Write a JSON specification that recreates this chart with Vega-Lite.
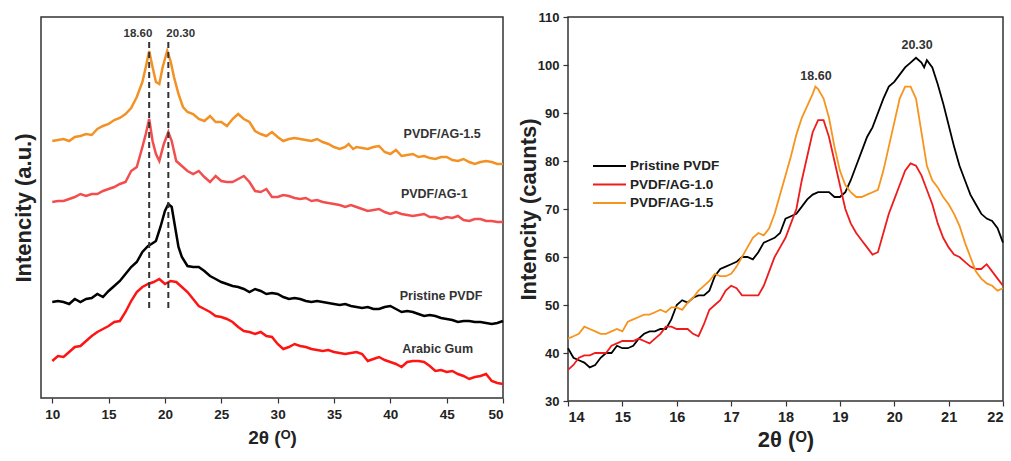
{
  "$schema": "https://vega.github.io/schema/vega-lite/v6.json",
  "padding": {"left": 11, "top": 10, "right": 5, "bottom": 5},
  "background": "white",
  "spacing": 65,
  "bounds": "flush",
  "resolve": {"scale": {"color": "independent"}},
  "datasets": {
    "left": [
      {"s":"PVDF/AG-1.5","x":10,"y":257},{"s":"PVDF/AG-1.5","x":10.5,"y":258},{"s":"PVDF/AG-1.5","x":11,"y":259},{"s":"PVDF/AG-1.5","x":11.5,"y":257},{"s":"PVDF/AG-1.5","x":12,"y":261},{"s":"PVDF/AG-1.5","x":12.5,"y":262},{"s":"PVDF/AG-1.5","x":13,"y":264},{"s":"PVDF/AG-1.5","x":13.5,"y":263},{"s":"PVDF/AG-1.5","x":14,"y":269},{"s":"PVDF/AG-1.5","x":14.5,"y":272},{"s":"PVDF/AG-1.5","x":15,"y":274},{"s":"PVDF/AG-1.5","x":15.5,"y":278},{"s":"PVDF/AG-1.5","x":16,"y":280},{"s":"PVDF/AG-1.5","x":16.5,"y":284},{"s":"PVDF/AG-1.5","x":17,"y":290},{"s":"PVDF/AG-1.5","x":17.5,"y":301},{"s":"PVDF/AG-1.5","x":18,"y":316},{"s":"PVDF/AG-1.5","x":18.3,"y":331},{"s":"PVDF/AG-1.5","x":18.6,"y":347},{"s":"PVDF/AG-1.5","x":18.9,"y":331},{"s":"PVDF/AG-1.5","x":19.2,"y":316},{"s":"PVDF/AG-1.5","x":19.5,"y":314},{"s":"PVDF/AG-1.5","x":19.8,"y":331},{"s":"PVDF/AG-1.5","x":20.2,"y":347},{"s":"PVDF/AG-1.5","x":20.5,"y":337},{"s":"PVDF/AG-1.5","x":20.8,"y":321},{"s":"PVDF/AG-1.5","x":21.2,"y":304},{"s":"PVDF/AG-1.5","x":21.6,"y":291},{"s":"PVDF/AG-1.5","x":22,"y":286},{"s":"PVDF/AG-1.5","x":22.5,"y":284},{"s":"PVDF/AG-1.5","x":23,"y":279},{"s":"PVDF/AG-1.5","x":23.5,"y":277},{"s":"PVDF/AG-1.5","x":24,"y":282},{"s":"PVDF/AG-1.5","x":24.5,"y":276},{"s":"PVDF/AG-1.5","x":25,"y":276},{"s":"PVDF/AG-1.5","x":25.5,"y":272},{"s":"PVDF/AG-1.5","x":26,"y":279},{"s":"PVDF/AG-1.5","x":26.5,"y":284},{"s":"PVDF/AG-1.5","x":27,"y":279},{"s":"PVDF/AG-1.5","x":27.5,"y":276},{"s":"PVDF/AG-1.5","x":28,"y":267},{"s":"PVDF/AG-1.5","x":28.5,"y":264},{"s":"PVDF/AG-1.5","x":29,"y":262},{"s":"PVDF/AG-1.5","x":29.5,"y":266},{"s":"PVDF/AG-1.5","x":30,"y":261},{"s":"PVDF/AG-1.5","x":30.5,"y":257},{"s":"PVDF/AG-1.5","x":31,"y":259},{"s":"PVDF/AG-1.5","x":31.5,"y":260},{"s":"PVDF/AG-1.5","x":32,"y":259},{"s":"PVDF/AG-1.5","x":32.5,"y":258},{"s":"PVDF/AG-1.5","x":33,"y":257},{"s":"PVDF/AG-1.5","x":33.5,"y":259},{"s":"PVDF/AG-1.5","x":34,"y":256},{"s":"PVDF/AG-1.5","x":34.5,"y":254},{"s":"PVDF/AG-1.5","x":35,"y":251},{"s":"PVDF/AG-1.5","x":35.5,"y":249},{"s":"PVDF/AG-1.5","x":36,"y":251},{"s":"PVDF/AG-1.5","x":36.3,"y":254},{"s":"PVDF/AG-1.5","x":36.7,"y":249},{"s":"PVDF/AG-1.5","x":37,"y":251},{"s":"PVDF/AG-1.5","x":37.5,"y":250},{"s":"PVDF/AG-1.5","x":38,"y":249},{"s":"PVDF/AG-1.5","x":38.5,"y":251},{"s":"PVDF/AG-1.5","x":39,"y":252},{"s":"PVDF/AG-1.5","x":39.5,"y":246},{"s":"PVDF/AG-1.5","x":40,"y":244},{"s":"PVDF/AG-1.5","x":40.5,"y":248},{"s":"PVDF/AG-1.5","x":41,"y":242},{"s":"PVDF/AG-1.5","x":41.5,"y":243},{"s":"PVDF/AG-1.5","x":42,"y":244},{"s":"PVDF/AG-1.5","x":42.5,"y":241},{"s":"PVDF/AG-1.5","x":43,"y":242},{"s":"PVDF/AG-1.5","x":43.5,"y":240},{"s":"PVDF/AG-1.5","x":44,"y":239},{"s":"PVDF/AG-1.5","x":44.5,"y":241},{"s":"PVDF/AG-1.5","x":45,"y":241},{"s":"PVDF/AG-1.5","x":45.5,"y":238},{"s":"PVDF/AG-1.5","x":46,"y":237},{"s":"PVDF/AG-1.5","x":46.5,"y":239},{"s":"PVDF/AG-1.5","x":47,"y":236},{"s":"PVDF/AG-1.5","x":47.5,"y":234},{"s":"PVDF/AG-1.5","x":48,"y":236},{"s":"PVDF/AG-1.5","x":48.5,"y":237},{"s":"PVDF/AG-1.5","x":49,"y":236},{"s":"PVDF/AG-1.5","x":49.5,"y":234},{"s":"PVDF/AG-1.5","x":50,"y":234},

      {"s":"PVDF/AG-1","x":10,"y":196},{"s":"PVDF/AG-1","x":10.5,"y":197},{"s":"PVDF/AG-1","x":11,"y":197},{"s":"PVDF/AG-1","x":11.5,"y":199},{"s":"PVDF/AG-1","x":12,"y":201},{"s":"PVDF/AG-1","x":12.5,"y":204},{"s":"PVDF/AG-1","x":13,"y":202},{"s":"PVDF/AG-1","x":13.5,"y":204},{"s":"PVDF/AG-1","x":14,"y":204},{"s":"PVDF/AG-1","x":14.5,"y":207},{"s":"PVDF/AG-1","x":15,"y":209},{"s":"PVDF/AG-1","x":15.5,"y":211},{"s":"PVDF/AG-1","x":16,"y":214},{"s":"PVDF/AG-1","x":16.5,"y":216},{"s":"PVDF/AG-1","x":17,"y":227},{"s":"PVDF/AG-1","x":17.5,"y":231},{"s":"PVDF/AG-1","x":18,"y":251},{"s":"PVDF/AG-1","x":18.3,"y":264},{"s":"PVDF/AG-1","x":18.6,"y":279},{"s":"PVDF/AG-1","x":18.9,"y":257},{"s":"PVDF/AG-1","x":19.2,"y":244},{"s":"PVDF/AG-1","x":19.5,"y":237},{"s":"PVDF/AG-1","x":19.9,"y":254},{"s":"PVDF/AG-1","x":20.3,"y":266},{"s":"PVDF/AG-1","x":20.6,"y":257},{"s":"PVDF/AG-1","x":21,"y":237},{"s":"PVDF/AG-1","x":21.5,"y":232},{"s":"PVDF/AG-1","x":22,"y":227},{"s":"PVDF/AG-1","x":22.5,"y":224},{"s":"PVDF/AG-1","x":23,"y":227},{"s":"PVDF/AG-1","x":23.5,"y":221},{"s":"PVDF/AG-1","x":24,"y":216},{"s":"PVDF/AG-1","x":24.5,"y":222},{"s":"PVDF/AG-1","x":25,"y":217},{"s":"PVDF/AG-1","x":25.5,"y":216},{"s":"PVDF/AG-1","x":26,"y":216},{"s":"PVDF/AG-1","x":26.5,"y":219},{"s":"PVDF/AG-1","x":27,"y":222},{"s":"PVDF/AG-1","x":27.5,"y":216},{"s":"PVDF/AG-1","x":28,"y":207},{"s":"PVDF/AG-1","x":28.5,"y":206},{"s":"PVDF/AG-1","x":29,"y":209},{"s":"PVDF/AG-1","x":29.5,"y":201},{"s":"PVDF/AG-1","x":30,"y":201},{"s":"PVDF/AG-1","x":30.5,"y":203},{"s":"PVDF/AG-1","x":31,"y":202},{"s":"PVDF/AG-1","x":31.5,"y":200},{"s":"PVDF/AG-1","x":32,"y":199},{"s":"PVDF/AG-1","x":32.5,"y":200},{"s":"PVDF/AG-1","x":33,"y":197},{"s":"PVDF/AG-1","x":33.5,"y":198},{"s":"PVDF/AG-1","x":34,"y":196},{"s":"PVDF/AG-1","x":34.5,"y":195},{"s":"PVDF/AG-1","x":35,"y":194},{"s":"PVDF/AG-1","x":35.5,"y":193},{"s":"PVDF/AG-1","x":36,"y":191},{"s":"PVDF/AG-1","x":36.5,"y":193},{"s":"PVDF/AG-1","x":37,"y":191},{"s":"PVDF/AG-1","x":37.5,"y":189},{"s":"PVDF/AG-1","x":38,"y":187},{"s":"PVDF/AG-1","x":38.5,"y":188},{"s":"PVDF/AG-1","x":39,"y":189},{"s":"PVDF/AG-1","x":39.5,"y":186},{"s":"PVDF/AG-1","x":40,"y":184},{"s":"PVDF/AG-1","x":40.5,"y":186},{"s":"PVDF/AG-1","x":41,"y":184},{"s":"PVDF/AG-1","x":41.5,"y":183},{"s":"PVDF/AG-1","x":42,"y":182},{"s":"PVDF/AG-1","x":42.5,"y":183},{"s":"PVDF/AG-1","x":43,"y":184},{"s":"PVDF/AG-1","x":43.5,"y":181},{"s":"PVDF/AG-1","x":44,"y":181},{"s":"PVDF/AG-1","x":44.5,"y":179},{"s":"PVDF/AG-1","x":45,"y":181},{"s":"PVDF/AG-1","x":45.5,"y":180},{"s":"PVDF/AG-1","x":46,"y":182},{"s":"PVDF/AG-1","x":46.5,"y":178},{"s":"PVDF/AG-1","x":47,"y":177},{"s":"PVDF/AG-1","x":47.5,"y":179},{"s":"PVDF/AG-1","x":48,"y":179},{"s":"PVDF/AG-1","x":48.5,"y":177},{"s":"PVDF/AG-1","x":49,"y":177},{"s":"PVDF/AG-1","x":49.5,"y":176},{"s":"PVDF/AG-1","x":50,"y":176},

      {"s":"Pristine PVDF","x":10,"y":96},{"s":"Pristine PVDF","x":10.5,"y":97},{"s":"Pristine PVDF","x":11,"y":96},{"s":"Pristine PVDF","x":11.5,"y":94},{"s":"Pristine PVDF","x":12,"y":99},{"s":"Pristine PVDF","x":12.5,"y":96},{"s":"Pristine PVDF","x":13,"y":99},{"s":"Pristine PVDF","x":13.5,"y":100},{"s":"Pristine PVDF","x":14,"y":104},{"s":"Pristine PVDF","x":14.5,"y":101},{"s":"Pristine PVDF","x":15,"y":107},{"s":"Pristine PVDF","x":15.5,"y":112},{"s":"Pristine PVDF","x":16,"y":117},{"s":"Pristine PVDF","x":16.5,"y":124},{"s":"Pristine PVDF","x":17,"y":131},{"s":"Pristine PVDF","x":17.5,"y":136},{"s":"Pristine PVDF","x":18,"y":146},{"s":"Pristine PVDF","x":18.5,"y":152},{"s":"Pristine PVDF","x":18.8,"y":154},{"s":"Pristine PVDF","x":19.2,"y":157},{"s":"Pristine PVDF","x":19.6,"y":171},{"s":"Pristine PVDF","x":20,"y":187},{"s":"Pristine PVDF","x":20.3,"y":194},{"s":"Pristine PVDF","x":20.6,"y":191},{"s":"Pristine PVDF","x":20.9,"y":171},{"s":"Pristine PVDF","x":21.2,"y":151},{"s":"Pristine PVDF","x":21.5,"y":141},{"s":"Pristine PVDF","x":22,"y":132},{"s":"Pristine PVDF","x":22.5,"y":131},{"s":"Pristine PVDF","x":23,"y":131},{"s":"Pristine PVDF","x":23.5,"y":127},{"s":"Pristine PVDF","x":24,"y":122},{"s":"Pristine PVDF","x":24.5,"y":119},{"s":"Pristine PVDF","x":25,"y":116},{"s":"Pristine PVDF","x":25.5,"y":114},{"s":"Pristine PVDF","x":26,"y":112},{"s":"Pristine PVDF","x":26.5,"y":111},{"s":"Pristine PVDF","x":27,"y":109},{"s":"Pristine PVDF","x":27.5,"y":106},{"s":"Pristine PVDF","x":28,"y":109},{"s":"Pristine PVDF","x":28.5,"y":107},{"s":"Pristine PVDF","x":29,"y":104},{"s":"Pristine PVDF","x":29.5,"y":105},{"s":"Pristine PVDF","x":30,"y":104},{"s":"Pristine PVDF","x":30.5,"y":101},{"s":"Pristine PVDF","x":31,"y":99},{"s":"Pristine PVDF","x":31.5,"y":100},{"s":"Pristine PVDF","x":32,"y":99},{"s":"Pristine PVDF","x":32.5,"y":97},{"s":"Pristine PVDF","x":33,"y":96},{"s":"Pristine PVDF","x":33.5,"y":97},{"s":"Pristine PVDF","x":34,"y":96},{"s":"Pristine PVDF","x":34.5,"y":95},{"s":"Pristine PVDF","x":35,"y":94},{"s":"Pristine PVDF","x":35.5,"y":93},{"s":"Pristine PVDF","x":36,"y":94},{"s":"Pristine PVDF","x":36.5,"y":92},{"s":"Pristine PVDF","x":37,"y":91},{"s":"Pristine PVDF","x":37.5,"y":90},{"s":"Pristine PVDF","x":38,"y":91},{"s":"Pristine PVDF","x":38.5,"y":89},{"s":"Pristine PVDF","x":39,"y":89},{"s":"Pristine PVDF","x":39.5,"y":91},{"s":"Pristine PVDF","x":40,"y":92},{"s":"Pristine PVDF","x":40.5,"y":89},{"s":"Pristine PVDF","x":41,"y":86},{"s":"Pristine PVDF","x":41.5,"y":87},{"s":"Pristine PVDF","x":42,"y":86},{"s":"Pristine PVDF","x":42.5,"y":84},{"s":"Pristine PVDF","x":43,"y":82},{"s":"Pristine PVDF","x":43.5,"y":83},{"s":"Pristine PVDF","x":44,"y":82},{"s":"Pristine PVDF","x":44.5,"y":80},{"s":"Pristine PVDF","x":45,"y":79},{"s":"Pristine PVDF","x":45.5,"y":78},{"s":"Pristine PVDF","x":46,"y":76},{"s":"Pristine PVDF","x":46.5,"y":77},{"s":"Pristine PVDF","x":47,"y":77},{"s":"Pristine PVDF","x":47.5,"y":76},{"s":"Pristine PVDF","x":48,"y":76},{"s":"Pristine PVDF","x":48.5,"y":75},{"s":"Pristine PVDF","x":49,"y":74},{"s":"Pristine PVDF","x":49.5,"y":75},{"s":"Pristine PVDF","x":50,"y":77},

      {"s":"Arabic Gum","x":10,"y":37},{"s":"Arabic Gum","x":10.5,"y":42},{"s":"Arabic Gum","x":11,"y":41},{"s":"Arabic Gum","x":11.5,"y":46},{"s":"Arabic Gum","x":12,"y":51},{"s":"Arabic Gum","x":12.5,"y":52},{"s":"Arabic Gum","x":13,"y":57},{"s":"Arabic Gum","x":13.5,"y":62},{"s":"Arabic Gum","x":14,"y":66},{"s":"Arabic Gum","x":14.5,"y":69},{"s":"Arabic Gum","x":15,"y":72},{"s":"Arabic Gum","x":15.5,"y":76},{"s":"Arabic Gum","x":16,"y":77},{"s":"Arabic Gum","x":16.5,"y":86},{"s":"Arabic Gum","x":17,"y":97},{"s":"Arabic Gum","x":17.5,"y":106},{"s":"Arabic Gum","x":18,"y":111},{"s":"Arabic Gum","x":18.5,"y":114},{"s":"Arabic Gum","x":19,"y":116},{"s":"Arabic Gum","x":19.5,"y":119},{"s":"Arabic Gum","x":20,"y":114},{"s":"Arabic Gum","x":20.5,"y":117},{"s":"Arabic Gum","x":21,"y":116},{"s":"Arabic Gum","x":21.5,"y":111},{"s":"Arabic Gum","x":22,"y":106},{"s":"Arabic Gum","x":22.5,"y":99},{"s":"Arabic Gum","x":23,"y":92},{"s":"Arabic Gum","x":23.5,"y":89},{"s":"Arabic Gum","x":24,"y":86},{"s":"Arabic Gum","x":24.5,"y":82},{"s":"Arabic Gum","x":25,"y":81},{"s":"Arabic Gum","x":25.5,"y":79},{"s":"Arabic Gum","x":26,"y":76},{"s":"Arabic Gum","x":26.5,"y":71},{"s":"Arabic Gum","x":27,"y":67},{"s":"Arabic Gum","x":27.5,"y":66},{"s":"Arabic Gum","x":28,"y":64},{"s":"Arabic Gum","x":28.5,"y":66},{"s":"Arabic Gum","x":29,"y":62},{"s":"Arabic Gum","x":29.5,"y":61},{"s":"Arabic Gum","x":30,"y":54},{"s":"Arabic Gum","x":30.5,"y":49},{"s":"Arabic Gum","x":31,"y":51},{"s":"Arabic Gum","x":31.5,"y":54},{"s":"Arabic Gum","x":32,"y":52},{"s":"Arabic Gum","x":32.5,"y":51},{"s":"Arabic Gum","x":33,"y":49},{"s":"Arabic Gum","x":33.5,"y":48},{"s":"Arabic Gum","x":34,"y":47},{"s":"Arabic Gum","x":34.5,"y":48},{"s":"Arabic Gum","x":35,"y":46},{"s":"Arabic Gum","x":35.5,"y":45},{"s":"Arabic Gum","x":36,"y":44},{"s":"Arabic Gum","x":36.5,"y":45},{"s":"Arabic Gum","x":37,"y":46},{"s":"Arabic Gum","x":37.5,"y":44},{"s":"Arabic Gum","x":38,"y":37},{"s":"Arabic Gum","x":38.5,"y":39},{"s":"Arabic Gum","x":39,"y":41},{"s":"Arabic Gum","x":39.5,"y":38},{"s":"Arabic Gum","x":40,"y":36},{"s":"Arabic Gum","x":40.5,"y":34},{"s":"Arabic Gum","x":41,"y":31},{"s":"Arabic Gum","x":41.5,"y":36},{"s":"Arabic Gum","x":42,"y":37},{"s":"Arabic Gum","x":42.5,"y":37},{"s":"Arabic Gum","x":43,"y":36},{"s":"Arabic Gum","x":43.5,"y":32},{"s":"Arabic Gum","x":44,"y":27},{"s":"Arabic Gum","x":44.5,"y":28},{"s":"Arabic Gum","x":45,"y":26},{"s":"Arabic Gum","x":45.5,"y":27},{"s":"Arabic Gum","x":46,"y":24},{"s":"Arabic Gum","x":46.5,"y":22},{"s":"Arabic Gum","x":47,"y":19},{"s":"Arabic Gum","x":47.5,"y":21},{"s":"Arabic Gum","x":48,"y":22},{"s":"Arabic Gum","x":48.5,"y":24},{"s":"Arabic Gum","x":49,"y":17},{"s":"Arabic Gum","x":49.5,"y":15},{"s":"Arabic Gum","x":50,"y":14}
    ],
    "peaksL": [
      {"x": 18.6, "y1": 90, "y2": 358, "tx": 17.6, "ty": 364, "label": "18.60"},
      {"x": 20.3, "y1": 90, "y2": 358, "tx": 21.4, "ty": 364, "label": "20.30"}
    ],
    "labelsL": [
      {"x": 44.6, "y": 264, "label": "PVDF/AG-1.5"},
      {"x": 43.9, "y": 204, "label": "PVDF/AG-1"},
      {"x": 44.5, "y": 102, "label": "Pristine PVDF"},
      {"x": 44.2, "y": 49, "label": "Arabic Gum"}
    ],
    "peaksR": [
      {"x": 18.56, "y": 97.7, "label": "18.60"},
      {"x": 20.42, "y": 104.2, "label": "20.30"}
    ],
    "right": [
      {"s":"Pristine PVDF","x":14.0,"y":41},{"s":"Pristine PVDF","x":14.1,"y":39},{"s":"Pristine PVDF","x":14.2,"y":38.5},{"s":"Pristine PVDF","x":14.3,"y":38},{"s":"Pristine PVDF","x":14.4,"y":37},{"s":"Pristine PVDF","x":14.5,"y":37.5},{"s":"Pristine PVDF","x":14.6,"y":39},{"s":"Pristine PVDF","x":14.7,"y":40},{"s":"Pristine PVDF","x":14.8,"y":40},{"s":"Pristine PVDF","x":14.9,"y":41.5},{"s":"Pristine PVDF","x":15.0,"y":41},{"s":"Pristine PVDF","x":15.1,"y":41},{"s":"Pristine PVDF","x":15.2,"y":41.5},{"s":"Pristine PVDF","x":15.3,"y":43},{"s":"Pristine PVDF","x":15.4,"y":44},{"s":"Pristine PVDF","x":15.5,"y":44.5},{"s":"Pristine PVDF","x":15.6,"y":44.5},{"s":"Pristine PVDF","x":15.7,"y":45},{"s":"Pristine PVDF","x":15.8,"y":45},{"s":"Pristine PVDF","x":15.9,"y":47},{"s":"Pristine PVDF","x":16.0,"y":50},{"s":"Pristine PVDF","x":16.1,"y":51},{"s":"Pristine PVDF","x":16.2,"y":50.5},{"s":"Pristine PVDF","x":16.3,"y":51.5},{"s":"Pristine PVDF","x":16.4,"y":52},{"s":"Pristine PVDF","x":16.5,"y":52},{"s":"Pristine PVDF","x":16.6,"y":53},{"s":"Pristine PVDF","x":16.7,"y":56},{"s":"Pristine PVDF","x":16.8,"y":57.5},{"s":"Pristine PVDF","x":16.9,"y":58},{"s":"Pristine PVDF","x":17.0,"y":58.5},{"s":"Pristine PVDF","x":17.1,"y":59},{"s":"Pristine PVDF","x":17.2,"y":60},{"s":"Pristine PVDF","x":17.3,"y":60},{"s":"Pristine PVDF","x":17.4,"y":59.5},{"s":"Pristine PVDF","x":17.5,"y":61},{"s":"Pristine PVDF","x":17.6,"y":63},{"s":"Pristine PVDF","x":17.7,"y":63.5},{"s":"Pristine PVDF","x":17.8,"y":64},{"s":"Pristine PVDF","x":17.9,"y":65},{"s":"Pristine PVDF","x":18.0,"y":68},{"s":"Pristine PVDF","x":18.1,"y":68.5},{"s":"Pristine PVDF","x":18.2,"y":69},{"s":"Pristine PVDF","x":18.3,"y":70.5},{"s":"Pristine PVDF","x":18.4,"y":72},{"s":"Pristine PVDF","x":18.5,"y":73},{"s":"Pristine PVDF","x":18.6,"y":73.5},{"s":"Pristine PVDF","x":18.7,"y":73.5},{"s":"Pristine PVDF","x":18.8,"y":73.5},{"s":"Pristine PVDF","x":18.9,"y":72.5},{"s":"Pristine PVDF","x":19.0,"y":72.5},{"s":"Pristine PVDF","x":19.1,"y":73.5},{"s":"Pristine PVDF","x":19.2,"y":76},{"s":"Pristine PVDF","x":19.3,"y":79},{"s":"Pristine PVDF","x":19.4,"y":82},{"s":"Pristine PVDF","x":19.5,"y":85},{"s":"Pristine PVDF","x":19.6,"y":87},{"s":"Pristine PVDF","x":19.7,"y":90},{"s":"Pristine PVDF","x":19.8,"y":93},{"s":"Pristine PVDF","x":19.9,"y":95.5},{"s":"Pristine PVDF","x":20.0,"y":96.5},{"s":"Pristine PVDF","x":20.1,"y":98},{"s":"Pristine PVDF","x":20.2,"y":99.5},{"s":"Pristine PVDF","x":20.3,"y":100.5},{"s":"Pristine PVDF","x":20.4,"y":101.5},{"s":"Pristine PVDF","x":20.5,"y":100.5},{"s":"Pristine PVDF","x":20.55,"y":99.5},{"s":"Pristine PVDF","x":20.6,"y":101},{"s":"Pristine PVDF","x":20.7,"y":99.5},{"s":"Pristine PVDF","x":20.8,"y":96},{"s":"Pristine PVDF","x":20.9,"y":92},{"s":"Pristine PVDF","x":21.0,"y":87.5},{"s":"Pristine PVDF","x":21.1,"y":83},{"s":"Pristine PVDF","x":21.2,"y":79},{"s":"Pristine PVDF","x":21.3,"y":76},{"s":"Pristine PVDF","x":21.4,"y":73},{"s":"Pristine PVDF","x":21.5,"y":71},{"s":"Pristine PVDF","x":21.6,"y":69},{"s":"Pristine PVDF","x":21.7,"y":68},{"s":"Pristine PVDF","x":21.8,"y":67.5},{"s":"Pristine PVDF","x":21.9,"y":66},{"s":"Pristine PVDF","x":22.0,"y":63},

      {"s":"PVDF/AG-1.0","x":14.0,"y":36.5},{"s":"PVDF/AG-1.0","x":14.1,"y":37.5},{"s":"PVDF/AG-1.0","x":14.2,"y":39},{"s":"PVDF/AG-1.0","x":14.3,"y":39.5},{"s":"PVDF/AG-1.0","x":14.4,"y":39.5},{"s":"PVDF/AG-1.0","x":14.5,"y":40},{"s":"PVDF/AG-1.0","x":14.6,"y":40},{"s":"PVDF/AG-1.0","x":14.7,"y":40},{"s":"PVDF/AG-1.0","x":14.8,"y":41.5},{"s":"PVDF/AG-1.0","x":14.9,"y":42},{"s":"PVDF/AG-1.0","x":15.0,"y":42.5},{"s":"PVDF/AG-1.0","x":15.1,"y":42.5},{"s":"PVDF/AG-1.0","x":15.2,"y":42.5},{"s":"PVDF/AG-1.0","x":15.3,"y":43},{"s":"PVDF/AG-1.0","x":15.4,"y":42.5},{"s":"PVDF/AG-1.0","x":15.5,"y":42},{"s":"PVDF/AG-1.0","x":15.6,"y":43},{"s":"PVDF/AG-1.0","x":15.7,"y":44},{"s":"PVDF/AG-1.0","x":15.8,"y":45.5},{"s":"PVDF/AG-1.0","x":15.9,"y":45.5},{"s":"PVDF/AG-1.0","x":16.0,"y":45},{"s":"PVDF/AG-1.0","x":16.1,"y":45},{"s":"PVDF/AG-1.0","x":16.2,"y":45},{"s":"PVDF/AG-1.0","x":16.3,"y":44},{"s":"PVDF/AG-1.0","x":16.4,"y":43.5},{"s":"PVDF/AG-1.0","x":16.5,"y":46},{"s":"PVDF/AG-1.0","x":16.6,"y":49},{"s":"PVDF/AG-1.0","x":16.7,"y":50},{"s":"PVDF/AG-1.0","x":16.8,"y":51},{"s":"PVDF/AG-1.0","x":16.9,"y":53},{"s":"PVDF/AG-1.0","x":17.0,"y":54},{"s":"PVDF/AG-1.0","x":17.1,"y":53.5},{"s":"PVDF/AG-1.0","x":17.2,"y":52},{"s":"PVDF/AG-1.0","x":17.3,"y":52},{"s":"PVDF/AG-1.0","x":17.4,"y":52},{"s":"PVDF/AG-1.0","x":17.5,"y":52},{"s":"PVDF/AG-1.0","x":17.6,"y":54},{"s":"PVDF/AG-1.0","x":17.7,"y":57},{"s":"PVDF/AG-1.0","x":17.8,"y":60},{"s":"PVDF/AG-1.0","x":17.9,"y":62},{"s":"PVDF/AG-1.0","x":18.0,"y":64},{"s":"PVDF/AG-1.0","x":18.1,"y":67},{"s":"PVDF/AG-1.0","x":18.2,"y":70},{"s":"PVDF/AG-1.0","x":18.3,"y":76},{"s":"PVDF/AG-1.0","x":18.4,"y":81},{"s":"PVDF/AG-1.0","x":18.5,"y":86},{"s":"PVDF/AG-1.0","x":18.6,"y":88.5},{"s":"PVDF/AG-1.0","x":18.7,"y":88.5},{"s":"PVDF/AG-1.0","x":18.8,"y":85},{"s":"PVDF/AG-1.0","x":18.9,"y":80},{"s":"PVDF/AG-1.0","x":19.0,"y":75},{"s":"PVDF/AG-1.0","x":19.1,"y":70},{"s":"PVDF/AG-1.0","x":19.2,"y":67},{"s":"PVDF/AG-1.0","x":19.3,"y":65},{"s":"PVDF/AG-1.0","x":19.4,"y":63.5},{"s":"PVDF/AG-1.0","x":19.5,"y":62},{"s":"PVDF/AG-1.0","x":19.6,"y":60.5},{"s":"PVDF/AG-1.0","x":19.7,"y":61},{"s":"PVDF/AG-1.0","x":19.8,"y":65},{"s":"PVDF/AG-1.0","x":19.9,"y":69},{"s":"PVDF/AG-1.0","x":20.0,"y":72},{"s":"PVDF/AG-1.0","x":20.1,"y":75},{"s":"PVDF/AG-1.0","x":20.2,"y":78},{"s":"PVDF/AG-1.0","x":20.3,"y":79.5},{"s":"PVDF/AG-1.0","x":20.4,"y":79},{"s":"PVDF/AG-1.0","x":20.5,"y":77},{"s":"PVDF/AG-1.0","x":20.6,"y":74},{"s":"PVDF/AG-1.0","x":20.7,"y":71},{"s":"PVDF/AG-1.0","x":20.8,"y":67},{"s":"PVDF/AG-1.0","x":20.9,"y":64},{"s":"PVDF/AG-1.0","x":21.0,"y":62},{"s":"PVDF/AG-1.0","x":21.1,"y":60.5},{"s":"PVDF/AG-1.0","x":21.2,"y":60},{"s":"PVDF/AG-1.0","x":21.3,"y":59},{"s":"PVDF/AG-1.0","x":21.4,"y":58},{"s":"PVDF/AG-1.0","x":21.5,"y":57.5},{"s":"PVDF/AG-1.0","x":21.6,"y":57.5},{"s":"PVDF/AG-1.0","x":21.7,"y":58.5},{"s":"PVDF/AG-1.0","x":21.8,"y":57},{"s":"PVDF/AG-1.0","x":21.9,"y":55.5},{"s":"PVDF/AG-1.0","x":22.0,"y":54},

      {"s":"PVDF/AG-1.5","x":14.0,"y":43},{"s":"PVDF/AG-1.5","x":14.1,"y":43.5},{"s":"PVDF/AG-1.5","x":14.2,"y":44},{"s":"PVDF/AG-1.5","x":14.3,"y":45.5},{"s":"PVDF/AG-1.5","x":14.4,"y":45},{"s":"PVDF/AG-1.5","x":14.5,"y":44.5},{"s":"PVDF/AG-1.5","x":14.6,"y":44},{"s":"PVDF/AG-1.5","x":14.7,"y":44},{"s":"PVDF/AG-1.5","x":14.8,"y":44.5},{"s":"PVDF/AG-1.5","x":14.9,"y":45},{"s":"PVDF/AG-1.5","x":15.0,"y":44.5},{"s":"PVDF/AG-1.5","x":15.1,"y":46.5},{"s":"PVDF/AG-1.5","x":15.2,"y":47},{"s":"PVDF/AG-1.5","x":15.3,"y":47.5},{"s":"PVDF/AG-1.5","x":15.4,"y":48},{"s":"PVDF/AG-1.5","x":15.5,"y":48},{"s":"PVDF/AG-1.5","x":15.6,"y":48.5},{"s":"PVDF/AG-1.5","x":15.7,"y":49},{"s":"PVDF/AG-1.5","x":15.8,"y":48.5},{"s":"PVDF/AG-1.5","x":15.9,"y":49.5},{"s":"PVDF/AG-1.5","x":16.0,"y":49.5},{"s":"PVDF/AG-1.5","x":16.1,"y":49},{"s":"PVDF/AG-1.5","x":16.2,"y":50.5},{"s":"PVDF/AG-1.5","x":16.3,"y":51.5},{"s":"PVDF/AG-1.5","x":16.4,"y":53},{"s":"PVDF/AG-1.5","x":16.5,"y":54},{"s":"PVDF/AG-1.5","x":16.6,"y":55},{"s":"PVDF/AG-1.5","x":16.7,"y":56.5},{"s":"PVDF/AG-1.5","x":16.8,"y":56},{"s":"PVDF/AG-1.5","x":16.9,"y":56},{"s":"PVDF/AG-1.5","x":17.0,"y":56.5},{"s":"PVDF/AG-1.5","x":17.1,"y":58},{"s":"PVDF/AG-1.5","x":17.2,"y":60},{"s":"PVDF/AG-1.5","x":17.3,"y":62},{"s":"PVDF/AG-1.5","x":17.4,"y":64},{"s":"PVDF/AG-1.5","x":17.5,"y":65},{"s":"PVDF/AG-1.5","x":17.6,"y":64.5},{"s":"PVDF/AG-1.5","x":17.7,"y":66},{"s":"PVDF/AG-1.5","x":17.8,"y":69},{"s":"PVDF/AG-1.5","x":17.9,"y":73},{"s":"PVDF/AG-1.5","x":18.0,"y":77},{"s":"PVDF/AG-1.5","x":18.1,"y":81},{"s":"PVDF/AG-1.5","x":18.2,"y":85.5},{"s":"PVDF/AG-1.5","x":18.3,"y":89},{"s":"PVDF/AG-1.5","x":18.4,"y":91.5},{"s":"PVDF/AG-1.5","x":18.5,"y":94},{"s":"PVDF/AG-1.5","x":18.55,"y":95.5},{"s":"PVDF/AG-1.5","x":18.6,"y":95},{"s":"PVDF/AG-1.5","x":18.7,"y":93},{"s":"PVDF/AG-1.5","x":18.8,"y":89},{"s":"PVDF/AG-1.5","x":18.9,"y":83},{"s":"PVDF/AG-1.5","x":19.0,"y":78},{"s":"PVDF/AG-1.5","x":19.1,"y":75},{"s":"PVDF/AG-1.5","x":19.2,"y":73.5},{"s":"PVDF/AG-1.5","x":19.3,"y":72.5},{"s":"PVDF/AG-1.5","x":19.4,"y":72.5},{"s":"PVDF/AG-1.5","x":19.5,"y":73},{"s":"PVDF/AG-1.5","x":19.6,"y":73.5},{"s":"PVDF/AG-1.5","x":19.7,"y":74},{"s":"PVDF/AG-1.5","x":19.8,"y":78},{"s":"PVDF/AG-1.5","x":19.9,"y":83},{"s":"PVDF/AG-1.5","x":20.0,"y":88},{"s":"PVDF/AG-1.5","x":20.1,"y":93},{"s":"PVDF/AG-1.5","x":20.2,"y":95.5},{"s":"PVDF/AG-1.5","x":20.3,"y":95.5},{"s":"PVDF/AG-1.5","x":20.4,"y":93},{"s":"PVDF/AG-1.5","x":20.5,"y":86},{"s":"PVDF/AG-1.5","x":20.6,"y":79},{"s":"PVDF/AG-1.5","x":20.7,"y":76},{"s":"PVDF/AG-1.5","x":20.8,"y":74.5},{"s":"PVDF/AG-1.5","x":20.9,"y":72.5},{"s":"PVDF/AG-1.5","x":21.0,"y":71},{"s":"PVDF/AG-1.5","x":21.1,"y":69},{"s":"PVDF/AG-1.5","x":21.2,"y":66.5},{"s":"PVDF/AG-1.5","x":21.3,"y":63},{"s":"PVDF/AG-1.5","x":21.4,"y":60},{"s":"PVDF/AG-1.5","x":21.5,"y":57},{"s":"PVDF/AG-1.5","x":21.6,"y":55.5},{"s":"PVDF/AG-1.5","x":21.7,"y":54.5},{"s":"PVDF/AG-1.5","x":21.8,"y":54},{"s":"PVDF/AG-1.5","x":21.9,"y":53},{"s":"PVDF/AG-1.5","x":22.0,"y":53.5}
    ]
  },
  "hconcat": [
    {
      "width": 462,
      "height": 381,
      "layer": [
        {
          "data": {"name": "left"},
          "mark": {"type": "line", "strokeWidth": 2.5},
          "encoding": {
            "x": {"field": "x", "type": "quantitative",
                  "scale": {"domain": [9, 50], "nice": false, "zero": false},
                  "axis": {"title": "2θ (ᴼ)", "values": [10,15,20,25,30,35,40,45,50], "titleFontSize": 19, "titlePadding": 8}},
            "y": {"field": "y", "type": "quantitative",
                  "scale": {"domain": [0, 381], "nice": false},
                  "axis": {"title": "Intencity (a.u.)", "labels": false, "ticks": false, "titleFontSize": 22, "titlePadding": 6}},
            "color": {"field": "s", "type": "nominal",
                      "scale": {"domain": ["PVDF/AG-1.5", "PVDF/AG-1", "Pristine PVDF", "Arabic Gum"],
                                "range": ["#f39224", "#f24e4e", "#000000", "#ff1414"]},
                      "legend": null}
          }
        },
        {
          "data": {"name": "peaksL"},
          "mark": {"type": "rule", "strokeDash": [6, 4], "strokeWidth": 2, "color": "#333333"},
          "encoding": {
            "x": {"field": "x", "type": "quantitative"},
            "y": {"field": "y1", "type": "quantitative"},
            "y2": {"field": "y2"}
          }
        },
        {
          "data": {"name": "peaksL"},
          "mark": {"type": "text", "fontWeight": "bold", "fontSize": 11.5, "color": "#333333"},
          "encoding": {
            "x": {"field": "tx", "type": "quantitative"},
            "y": {"field": "ty", "type": "quantitative"},
            "text": {"field": "label"}
          }
        },
        {
          "data": {"name": "labelsL"},
          "mark": {"type": "text", "fontWeight": "bold", "fontSize": 12.5, "color": "#333333"},
          "encoding": {
            "x": {"field": "x", "type": "quantitative"},
            "y": {"field": "y", "type": "quantitative"},
            "text": {"field": "label"}
          }
        }
      ]
    },
    {
      "width": 435,
      "height": 384,
      "layer": [
        {
          "data": {"name": "right"},
          "mark": {"type": "line", "strokeWidth": 1.8},
          "encoding": {
            "x": {"field": "x", "type": "quantitative",
                  "scale": {"domain": [14, 22], "nice": false, "zero": false},
                  "axis": {"title": "2θ (ᴼ)", "values": [14,15,16,17,18,19,20,21,22], "titleFontSize": 22, "titlePadding": 6, "labelFontSize": 14.5}},
            "y": {"field": "y", "type": "quantitative",
                  "scale": {"domain": [30, 110], "nice": false, "zero": false},
                  "axis": {"title": "Intencity (caunts)", "values": [30,40,50,60,70,80,90,100,110], "titleFontSize": 22, "titlePadding": -3, "labelFontSize": 13}},
            "color": {"field": "s", "type": "nominal",
                      "scale": {"domain": ["Pristine PVDF", "PVDF/AG-1.0", "PVDF/AG-1.5"],
                                "range": ["#000000", "#ee1c1c", "#f7941d"]},
                      "legend": {"orient": "none", "legendX": 24, "legendY": 142, "title": null,
                                 "symbolType": "M-1,0H4.5", "symbolSize": 144, "symbolStrokeWidth": 2,
                                 "labelOffset": 24, "labelFontSize": 13.5, "labelFontWeight": "bold",
                                 "labelColor": "#222222", "rowPadding": 4.5, "padding": 0}}
          }
        },
        {
          "data": {"name": "peaksR"},
          "mark": {"type": "text", "fontWeight": "bold", "fontSize": 12.5, "color": "#333333"},
          "encoding": {
            "x": {"field": "x", "type": "quantitative"},
            "y": {"field": "y", "type": "quantitative"},
            "text": {"field": "label"}
          }
        }
      ]
    }
  ],
  "config": {
    "font": "Liberation Sans",
    "view": {"stroke": "#333333", "strokeWidth": 1.5},
    "axis": {"grid": false, "domain": false, "labelFontWeight": "bold", "labelFontSize": 13.5,
             "labelColor": "#222222", "titleFontWeight": "bold", "titleColor": "#222222",
             "tickColor": "#333333", "tickSize": 5, "tickWidth": 1.2, "labelPadding": 4}
  }
}
